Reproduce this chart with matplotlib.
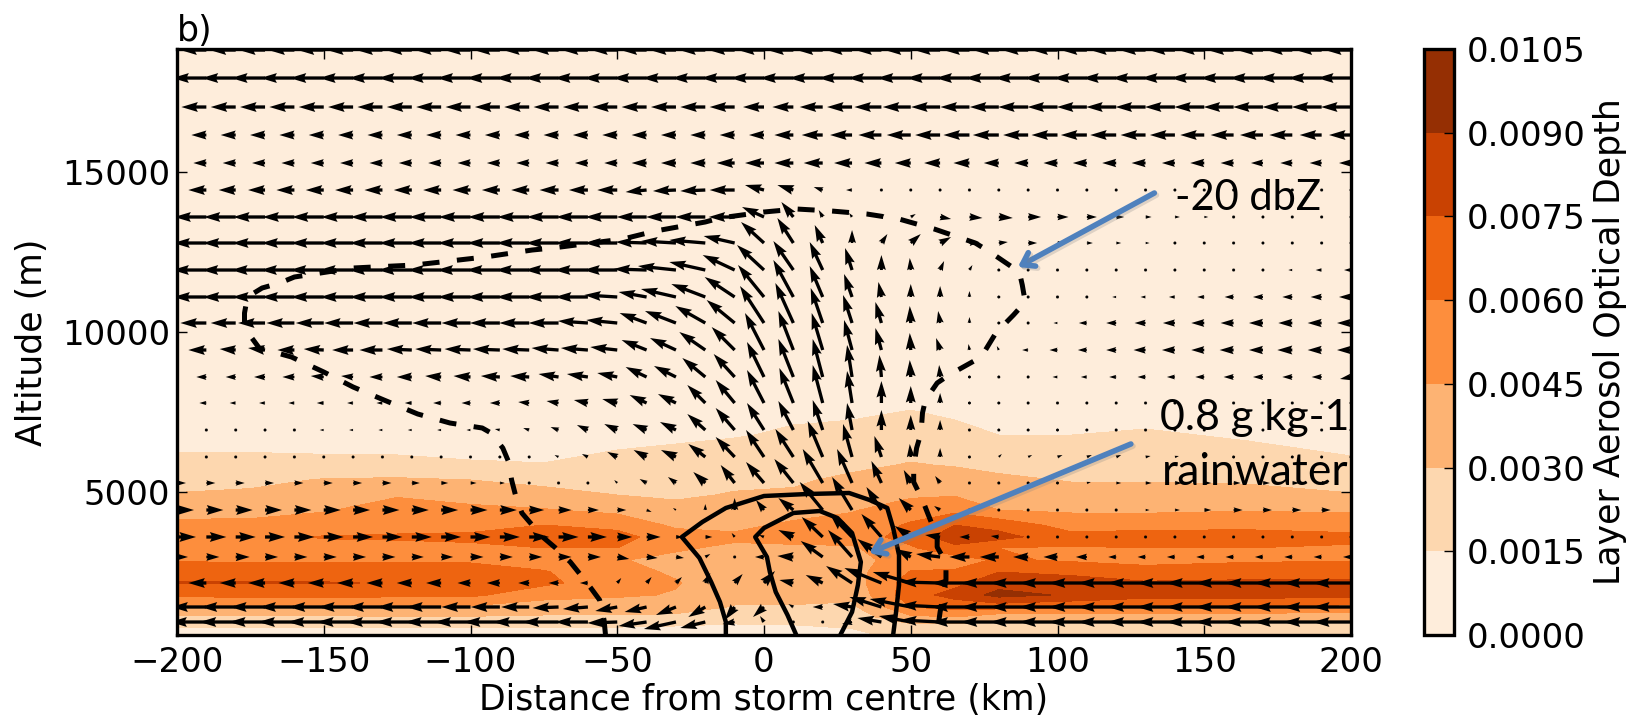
import matplotlib
matplotlib.use('Agg')
import matplotlib.pyplot as plt
import matplotlib.patheffects as pe
import numpy as np

# wind arrows: tails every 10 km, one row per model level
arrow_x = [-200, -190, -180, -170, -160, -150, -140, -130, -120, -110, -100, -90, -80, -70, -60, -50, -40, -30, -20, -10,
           0, 10, 20, 30, 40, 50, 60, 70, 80, 90, 100, 110, 120, 130, 140, 150, 160, 170, 180, 190, 200]
arrow_alt = [18812, 17937, 17031, 16156, 15281, 14437, 13594, 12781, 11937, 11094, 10281, 9437,
             8594, 7781, 6937, 6094, 5281, 4437, 3594, 2969, 2156, 1406, 937]

wind_u = [
    [-26, -26, -26, -26, -26, -26, -26, -26, -26, -26, -26, -26, -26, -26, -26, -26, -26, -26, -26, -26, -26, -26, -26, -26, -26, -26, -26, -26, -26, -26, -26, -26, -26, -26, -26, -26, -26, -26, -26, -26, -26],
    [-34, -34, -34, -34, -34, -34, -34, -34, -34, -34, -34, -34, -34, -34, -34, -34, -34, -34, -34, -34, -34, -34, -34, -34, -34, -34, -34, -34, -34, -34, -34, -34, -34, -34, -34, -34, -34, -34, -34, -34, -34],
    [-25, -25, -25, -25, -25, -25, -25, -25, -25, -25, -25, -25, -25, -25, -25, -25, -25, -25, -25, -25, -21, -21, -23, -25, -27, -28, -29, -29, -29, -30, -30, -30, -30, -30, -30, -30, -30, -30, -30, -30, -30],
    [-15, -15, -15, -15, -15, -15, -15, -15, -15, -15, -15, -15, -15, -15, -15, -15, -15, -15, -15, -15, -15, -19, -21, -22, -23, -24, -25, -26, -26, -25, -26, -26, -26, -25, -25, -24, -23, -23, -23, -22, -22],
    [-13, -13, -13, -13, -13, -13, -13, -13, -13, -13, -13, -13, -13, -13, -13, -13, -15, -15, -15, -18, -19, -19, -19, -18, -17, -16, -16, -16, -15, -14, -14, -14, -14, -14, -13, -14, -13, -12, -12, -12, -12],
    [-18, -18, -17, -17, -18, -18, -18, -18, -18, -18, -18, -18, -18, -19, -19, -20, -21, -23, -25, -25, -19, -16, -9, -6, -3, -1, 0, 0, 0, 0, 0, 0, 0, 0, 0, 0, 0, 0, 0, 0, 0],
    [-32, -32, -32, -32, -32, -32, -32, -32, -32, -32, -32, -32, -32, -32, -32, -32, -30, -30, -30, -26, -22, -12, -4, -3, 3, 5, 11, 13, 14, 13, 11, 10, 8, 6, 5, 4, 3, 3, 2, 1, 1],
    [-33, -33, -33, -33, -33, -33, -33, -33, -33, -33, -33, -33, -33, -33, -33, -33, -31, -35, -36, -31, -23, -16, -8, 0, 6, 10, 11, 10, 9, 9, 7, 6, 5, 4, 3, 3, 2, 2, 1, 0, 0],
    [-34, -34, -34, -34, -34, -34, -34, -34, -34, -34, -34, -34, -34, -34, -34, -34, -33, -38, -36, -32, -27, -20, -13, -7, 0, -1, 4, 3, 2, 0, 0, 0, 0, 0, 0, -2, -3, -3, -4, -6, -7],
    [-33, -33, -33, -33, -33, -33, -33, -33, -33, -33, -33, -33, -33, -33, -33, -33, -28, -35, -34, -30, -26, -20, -13, -8, -3, 0, 0, 0, 0, 0, -1, -2, -4, -5, -6, -7, -9, -10, -10, -11, -12],
    [-26, -26, -25, -27, -28, -28, -29, -29, -29, -29, -29, -30, -30, -30, -30, -31, -27, -31, -30, -28, -24, -18, -12, -9, -6, -1, -2, 0, 0, -2, -4, -8, -10, -11, -12, -13, -13, -14, -14, -14, -14],
    [-18, -18, -16, -17, -17, -20, -21, -23, -25, -26, -26, -27, -27, -27, -27, -27, -25, -26, -26, -23, -19, -15, -11, -8, -6, -1, -4, -1, -2, -6, -8, -9, -10, -12, -13, -13, -14, -14, -15, -14, -14],
    [-10, -10, -10, -11, -12, -13, -12, -13, -15, -16, -17, -19, -19, -20, -21, -20, -21, -22, -23, -21, -17, -15, -10, -5, -2, -1, -1, 0, -1, -3, -5, -6, -7, -8, -8, -9, -10, -10, -10, -10, -11],
    [-7, -7, -6, -6, -6, -7, -6, -6, -7, -8, -9, -10, -11, -12, -14, -15, -17, -18, -18, -19, -17, -14, -10, -5, 0, 0, 0, 0, 0, 0, 0, 0, 0, 0, 0, 0, 0, 0, 0, 0, 0],
    [-3, -3, -3, -3, -3, -4, -4, -4, -4, -4, -4, -5, -6, -8, -11, -13, -14, -16, -18, -19, -17, -15, -10, -5, 0, 0, 0, -1, 2, 2, 2, 2, 2, 1, 1, 1, 1, 1, 1, 1, 1],
    [0, 0, 0, 0, 0, 0, 0, 0, 0, 0, 0, -2, -3, -4, -6, -10, -13, -15, -17, -19, -18, -18, -15, -9, -7, -1, 0, 2, 3, 4, 5, 5, 5, 5, 4, 3, 3, 3, 3, 3, 3],
    [9, 9, 9, 9, 9, 9, 9, 9, 8, 7, 6, 5, 3, 0, 0, -3, -7, -8, -12, -14, -18, -19, -20, -15, -10, -7, -5, 1, 2, 2, 3, 4, 5, 6, 7, 7, 7, 7, 7, 7, 7],
    [17, 17, 17, 17, 17, 17, 17, 17, 17, 17, 17, 17, 15, 13, 11, 9, 5, -3, 0, 0, -8, -15, -23, -20, -15, -12, -6, -2, 2, 2, 3, 3, 3, 4, 5, 7, 9, 9, 9, 9, 9],
    [19, 20, 20, 20, 20, 20, 20, 20, 20, 20, 20, 20, 20, 20, 19, 15, 14, 7, 7, -3, -5, -15, -21, -22, -20, -16, -15, -10, -8, -3, 0, 0, 0, 0, 0, 0, 0, 0, 0, 0, 0],
    [11, 13, 14, 13, 13, 13, 13, 13, 12, 12, 13, 13, 13, 13, 13, 12, 11, 8, 5, 0, -9, -16, -22, -24, -24, -15, -24, -20, -19, -15, -14, -11, -8, -8, -8, -8, -8, -8, -8, -8, -8],
    [-18, -18, -16, -17, -16, -16, -16, -16, -15, -15, -13, -13, -11, -10, -8, 4, 5, 6, 5, 8, 11, -14, -17, -26, -37, -38, -40, -38, -38, -38, -38, -38, -38, -38, -38, -38, -38, -38, -38, -38, -38],
    [-35, -35, -35, -35, -35, -35, -35, -35, -35, -35, -29, -29, -28, -26, -25, -22, -22, -20, -17, -10, -11, -5, -10, -19, -32, -41, -40, -38, -38, -38, -38, -38, -38, -38, -38, -38, -38, -38, -38, -38, -38],
    [-36, -36, -36, -36, -36, -36, -36, -36, -36, -36, -36, -36, -36, -36, -33, -30, -28, -32, -25, -12, -4, 0, -3, -10, -24, -32, -40, -38, -38, -38, -38, -38, -38, -38, -38, -38, -38, -38, -38, -38, -38],
]

wind_w = [
    [0, 0, 0, 0, 0, 0, 0, 0, 0, 0, 0, 0, 0, 0, 0, 0, 0, 0, 0, 0, 0, 0, 0, 0, 0, 0, 0, 0, 0, 0, 0, 0, 0, 0, 0, 0, 0, 0, 0, 0, 0],
    [0, 0, 0, 0, 0, 0, 0, 0, 0, 0, 0, 0, 0, 0, 0, 0, 0, 0, 0, 0, 0, 0, 0, 0, 0, 0, 0, 0, 0, 0, 0, 0, 0, 0, 0, 0, 0, 0, 0, 0, 0],
    [0, 0, 0, 0, 0, 0, 0, 0, 0, 0, 0, 0, 0, 0, 0, 0, 0, 0, 0, 0, 0, 0, 0, 0, 0, 0, 0, 0, 0, 0, 0, 0, 0, 0, 0, 0, 0, 0, 0, 0, 0],
    [0, 0, 0, 0, 0, 0, 0, 0, 0, 0, 0, 0, 0, 0, 0, 0, 0, 0, 0, 0, 0, 0, 0, 0, 0, 0, 0, 0, 0, 0, 0, 0, 0, 0, 0, 0, 0, 0, 0, 0, 0],
    [0, 0, 0, 0, 0, 0, 0, 0, 0, 0, 0, 0, 0, 0, 0, 0, 0, 0, 0, 0, 0, 0, 0, 0, 0, 0, 0, 0, 0, 0, 0, 0, 0, 0, 0, 0, 0, 0, 0, 0, 0],
    [0, 0, 0, 0, 0, 0, 0, 0, 0, 0, 0, 0, 0, 0, 0, 0, -2, -1, -1, 0, 5, 5, 3, 0, 0, 0, 0, 0, 0, 0, 0, 0, 0, 0, 0, 0, 0, 0, 0, 0, 0],
    [0, 0, 0, 0, 0, 0, 0, 0, 0, 0, 0, 0, 0, 0, 0, 0, 0, 0, 0, 0, 10, 15, 7, 4, 3, 3, -2, -1, -1, 0, 0, 0, 0, 0, 0, 0, 0, 0, 0, 0, 0],
    [0, 0, 0, 0, 0, 0, 0, 0, 0, 0, 0, 0, 0, 0, 0, 0, 1, 2, 3, 7, 21, 25, 18, 13, 9, 9, 6, 1, 1, 0, 0, 0, 0, 0, 0, 0, 0, 0, 0, 0, 0],
    [0, 0, 0, 0, 0, 0, 0, 0, 0, 0, 0, 0, 0, 0, 0, 0, 1, 4, 8, 15, 25, 29, 28, 22, 15, 12, 9, 5, 2, 0, 0, 0, 0, 0, 0, 0, 0, 0, 0, 0, 0],
    [0, 0, 0, 0, 0, 0, 0, 0, 0, 0, 0, 0, 0, 0, 0, 2, 5, 8, 13, 20, 32, 37, 31, 23, 15, 13, 11, 6, 2, 0, 0, 0, 0, 0, 0, 0, 0, 0, 0, 0, 0],
    [0, 0, 0, 0, 0, 0, 0, 0, 0, 0, 0, 0, 0, 0, 2, 3, 10, 12, 17, 23, 37, 40, 35, 28, 21, 17, 12, 6, 3, 0, 0, 0, 0, 0, 0, 0, 0, 0, 0, 0, 0],
    [0, 0, 1, 2, 0, 1, 0, 0, 1, 1, 1, 1, 1, 2, 2, 3, 10, 12, 18, 23, 37, 39, 37, 30, 22, 17, 12, 6, 4, 0, 0, 0, 0, 0, 0, 0, 0, 0, 0, 0, 0],
    [0, 0, 0, 0, 0, 1, 1, 0, 0, 1, 1, 1, 1, 3, 3, 4, 10, 11, 19, 23, 35, 38, 38, 32, 22, 17, 12, 3, 3, 0, 0, 0, 0, 0, 0, 0, 0, 0, 0, 0, -2],
    [0, 0, 0, 0, 0, 0, 0, 0, 0, 0, 0, 0, 1, 2, 3, 4, 8, 9, 18, 23, 33, 35, 38, 32, 22, 17, 10, 2, 1, 0, 0, 0, 0, 0, 0, 0, 0, 0, 0, 0, 0],
    [0, 0, 0, 0, 0, 0, 0, 0, 0, 0, 0, 1, 2, 3, 5, 6, 6, 8, 16, 22, 27, 29, 30, 27, 20, 15, 10, 3, 2, 1, 1, 1, 0, 0, 0, 0, 0, 0, 0, 0, 0],
    [0, 0, 0, 0, 0, 0, 0, 0, 0, 0, 0, 1, 1, 2, 3, 5, 7, 7, 13, 20, 27, 28, 36, 33, 21, 13, 9, 2, 3, 2, 2, 2, 2, 1, 1, 1, 1, 1, 1, 1, 1],
    [0, 0, 0, 0, 0, 0, 0, 0, 0, 0, 0, 0, 0, 0, 0, 3, 4, 6, 11, 18, 21, 24, 34, 34, 22, 13, 7, 2, 2, 1, 1, 1, 0, 0, 0, 0, 0, 0, 0, 0, 0],
    [0, 0, 0, 0, 0, 0, 0, 0, 0, 0, 0, 0, 0, 0, 0, 0, -2, 2, 6, 12, 10, 12, 28, 33, 23, 12, 4, 2, 0, 0, 0, 0, 0, 0, 0, 0, 0, 0, 0, 0, 0],
    [0, 0, 0, 0, 0, 0, 0, 0, 0, 0, 0, 0, 0, 0, 0, 0, 0, 0, 0, 4, 2, 7, 20, 23, 23, 11, 2, 0, 1, 0, 0, 0, 0, 0, 0, 0, 0, 0, 0, 0, 0],
    [0, 0, 0, 0, 0, 0, 0, 0, 0, 0, 0, 0, 0, 0, 0, -2, -1, -1, 3, 0, 0, 1, 16, 27, 18, 8, 3, 0, 0, 0, 0, 0, 0, 0, 0, 0, 0, 0, 0, 0, 0],
    [0, 0, 0, 0, 0, 0, 0, 0, 0, 0, 0, 0, 0, 0, 0, 5, 6, 6, 10, 9, 12, 3, 8, 17, 15, 11, 1, 0, 0, 0, 0, 0, 0, 0, 0, 0, 0, 0, 0, 0, 0],
    [0, 0, 0, 0, 0, 0, 0, 0, 0, 0, 0, 0, 0, -1, -2, -4, -5, -8, -10, -13, -10, 3, 0, 3, 10, 8, 2, 0, 0, 0, 0, 0, 0, 0, 0, 0, 0, 0, 0, 0, 0],
    [0, 0, 0, 0, 0, 0, 0, 0, 0, 0, 0, 0, 0, 0, 0, -1, -4, -7, -6, -2, 6, 0, 0, -2, 4, 6, 2, 0, 0, 0, 0, 0, 0, 0, 0, 0, 0, 0, 0, 0, 0],
]

# layer aerosol optical depth, in units of 1e-4
aod_x = [-200, -175, -150, -125, -100, -75, -50, -30, -10, 10, 30, 50, 65, 80, 105, 130, 165, 200]
aod_alt = [531, 813, 1094, 1406, 1781, 2156, 2500, 2875, 3250, 3594, 3969, 4437, 4906, 5375, 5844, 6313, 6781, 7250, 7875, 18900]
aod_e4 = [
    [8, 8, 8, 8, 8, 8, 8, 7, 7, 8, 10, 22, 21, 20, 20, 20, 20, 20],
    [16, 16, 16, 17, 17, 16, 16, 15, 13, 14, 17, 26, 25, 24, 24, 24, 24, 24],
    [28, 28, 28, 29, 29, 28, 28, 27, 22, 22, 22, 42, 45, 35, 35, 35, 35, 37],
    [42, 43, 44, 44, 43, 38, 37, 36, 29, 29, 27, 60, 66, 66, 62, 62, 62, 55],
    [63, 64, 64, 63, 63, 50, 47, 44, 35, 34, 34, 69, 80, 95, 88, 80, 80, 80],
    [76, 76, 76, 74, 72, 63, 52, 46, 36, 36, 38, 67, 71, 84, 81, 77, 78, 78],
    [66, 68, 67, 67, 66, 61, 50, 43, 37, 37, 39, 61, 62, 75, 72, 65, 68, 69],
    [59, 58, 58, 58, 58, 54, 46, 41, 38, 38, 40, 52, 53, 62, 58, 56, 58, 59],
    [55, 54, 55, 55, 57, 60, 60, 47, 42, 42, 43, 58, 71, 60, 59, 60, 60, 58],
    [52, 56, 61, 62, 63, 66, 65, 52, 48, 51, 52, 66, 84, 80, 65, 65, 66, 64],
    [48, 48, 51, 54, 55, 60, 56, 42, 41, 48, 50, 62, 75, 70, 53, 56, 56, 53],
    [40, 41, 44, 50, 48, 46, 41, 34, 36, 38, 44, 52, 56, 45, 43, 42, 44, 43],
    [31, 33, 38, 44, 40, 35, 30, 28, 31, 32, 38, 43, 44, 39, 36, 36, 35, 31],
    [25, 26, 31, 32, 30, 26, 26, 24, 27, 28, 33, 37, 37, 33, 29, 29, 28, 24],
    [20, 20, 20, 19, 17, 16, 20, 20, 23, 24, 27, 31, 29, 26, 22, 24, 23, 18],
    [14, 14, 13, 13, 11, 9, 15, 17, 19, 21, 22, 26, 25, 20, 18, 20, 18, 13],
    [8, 8, 7, 7, 6, 5, 9, 12, 14, 17, 18, 20, 19, 15, 15, 17, 13, 8],
    [6, 6, 5, 5, 5, 4, 6, 9, 11, 14, 15, 17, 15, 11, 9, 12, 8, 5],
    [5, 5, 4, 4, 4, 3, 4, 6, 8, 10, 11, 13, 11, 7, 6, 5, 4, 3],
    [0, 0, 0, 0, 0, 0, 0, 0, 0, 0, 0, 0, 0, 0, 0, 0, 0, 0],
]
aod_levels = [0.0, 0.0015, 0.003, 0.0045, 0.006, 0.0075, 0.009, 0.0105]

# -20 dbZ reflectivity outline
dbz_x = [-54, -54.5, -56, -59, -63, -66, -71, -75, -79, -82.5, -84.5, -86, -87, -89, -93, -96, -107, -118, -129.5,
         -140, -150, -161, -172, -177, -177, -176, -171, -165, -160, -140, -119, -95, -79, -72, -48, -37, -20, -15,
         0, 11, 23, 35, 46, 58, 66, 72, 77, 81, 87, 88, 89, 85, 79, 74, 63, 59, 55, 54, 53.5, 52, 51, 51, 54, 56,
         59, 59, 62, 62, 60, 59]
dbz_alt = [531, 1000, 1625, 2000, 2469, 2812, 3250, 3562, 3969, 4344, 4844, 5375, 5938, 6375, 6844, 7000, 7156, 7438, 7875,
           8281, 8750, 9219, 9500, 10125, 10594, 11094, 11375, 11531, 11719, 12000, 12094, 12344, 12562, 12625, 12906, 13156, 13438, 13563,
           13750, 13844, 13781, 13688, 13531, 13219, 12969, 12781, 12500, 12250, 11875, 11469, 10938, 10531, 9969, 9219, 8656, 8406, 7875, 7469, 6844, 6375, 5781, 5313, 4750, 4281,
           3594, 3281, 2781, 2250, 1250, 594]

# rainwater outlines
rain_outer_x = [-13, -13, -15, -18, -22, -28, -21, -13, 0, 15, 29, 36, 42, 44, 46, 46, 45, 44]
rain_outer_alt = [531, 938, 1563, 2188, 2938, 3594, 4063, 4500, 4875, 4938, 4969, 4750, 4500, 3875, 3031, 2094, 1250, 531]
rain_inner_x = [11, 8, 4, 2, 1, -3, 0, 10, 19, 25, 30, 33, 32, 30, 26]
rain_inner_alt = [531, 1156, 1875, 2500, 2969, 3594, 3875, 4344, 4406, 4188, 3719, 2813, 2094, 1250, 531]

x_ticks = [-200, -150, -100, -50, 0, 50, 100, 150, 200]
y_ticks = [5000, 10000, 15000]

W, H = 1636.0, 717.0

fig = plt.figure(figsize=(16.36, 7.17), dpi=100)
ax = fig.add_axes([177 / W, 1 - 635 / H, (1351 - 177) / W, (635 - 49) / H])

aod = np.array(aod_e4) * 1e-4
cf = ax.contourf(aod_x, aod_alt, aod, levels=aod_levels, cmap='Oranges', vmin=0, vmax=0.0105)

ax.plot(dbz_x, dbz_alt, color='k', lw=3.6, linestyle=(0, (3.4, 3.5)), zorder=3)
ax.plot(rain_outer_x, rain_outer_alt, color='k', lw=3.2, zorder=3)
ax.plot(rain_inner_x, rain_inner_alt, color='k', lw=3.2, zorder=3)

ax.quiver(arrow_x, arrow_alt, wind_u, wind_w, units='dots', width=3.3, angles='uv',
          scale_units='dots', scale=1, pivot='tail', color='k', zorder=4)

ax.set_xlim(-200, 200)
ax.set_ylim(531, 18844)
ax.set_xticks(x_ticks)
ax.set_yticks(y_ticks)
ax.tick_params(direction='in', top=True, right=True, length=7.5, width=1, labelsize=24.5)
ax.tick_params(axis='x', pad=8)
ax.tick_params(axis='y', pad=5)
for s in ax.spines.values():
    s.set_linewidth(2.4)

ax.set_xlabel('Distance from storm centre (km)', fontsize=25, va='center')
ax.xaxis.set_label_coords(0.5, -(700 - 635) / 586.0)
ax.set_ylabel('Altitude (m)', fontsize=25, va='center')
ax.yaxis.set_label_coords(-(177 - 32) / 1174.0, 0.5)
ax.set_title('b)', fontsize=25, loc='left', pad=6)

# hand drawn annotations on top
blue = '#4f81bd'
shadow = [pe.SimpleLineShadow(offset=(1.5, -1.5), shadow_color='gray', alpha=0.25), pe.Normal()]
ax.annotate('', xy=(86.5, 12031), xytext=(133, 14344),
            arrowprops=dict(arrowstyle='->,head_length=0.8,head_width=0.55', color=blue, lw=4,
                            shrinkA=0, shrinkB=0, path_effects=shadow), zorder=6)
ax.annotate('', xy=(35.8, 3094), xytext=(125, 6500),
            arrowprops=dict(arrowstyle='->,head_length=0.8,head_width=0.55', color=blue, lw=4,
                            shrinkA=0, shrinkB=0, path_effects=shadow), zorder=6)
ax.text(140, 13812, '-20 dbZ', family='Lato', fontsize=30, color='k', zorder=7)
ax.text(135, 6937, '0.8 g kg-1', family='Lato', fontsize=31, color='k', zorder=7)
ax.text(135.6, 5219, 'rainwater', family='Lato', fontsize=32, color='k', zorder=7)

cax = fig.add_axes([1424 / W, 1 - 635 / H, 30 / W, (635 - 49) / H])
cb = fig.colorbar(cf, cax=cax, ticks=aod_levels, format='%.4f')
cb.ax.tick_params(direction='in', length=7.5, width=1, labelsize=24.5, pad=9)
cb.outline.set_linewidth(2.4)
cb.set_label('Layer Aerosol Optical Depth', fontsize=25, va='center')
cb.ax.yaxis.set_label_coords((1610 - 1424) / 30.0, 0.5)

fig.savefig('out.png', dpi=100)
